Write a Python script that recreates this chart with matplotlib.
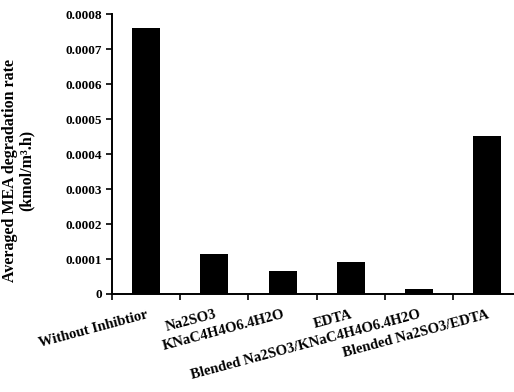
import matplotlib
matplotlib.use('Agg')
import matplotlib.pyplot as plt
import numpy as np

categories = ['Without Inhibtior', 'Na2SO3', 'KNaC4H4O6.4H2O', 'EDTA',
              'Blended Na2SO3/KNaC4H4O6.4H2O', 'Blended Na2SO3/EDTA']
rates = [0.00076, 0.000114, 0.000066, 0.000091, 0.000014, 0.000451]
yticks = [0, 0.0001, 0.0002, 0.0003, 0.0004, 0.0005, 0.0006, 0.0007, 0.0008]
ytick_labels = ['0', '0.0001', '0.0002', '0.0003', '0.0004', '0.0005', '0.0006', '0.0007', '0.0008']

plt.rcParams['font.family'] = ['Liberation Serif', 'DejaVu Serif']
plt.rcParams['font.weight'] = 'bold'

fig = plt.figure(figsize=(5.14, 3.92), dpi=100)
ax = fig.add_axes([0.218, 0.25, 0.796, 0.714])

x = np.arange(len(categories))
ax.bar(x, rates, width=0.41, color='black')

ax.set_xlim(-0.5, len(categories) - 0.5)
ax.set_ylim(0, 0.0008)
ax.set_yticks(yticks)
ax.set_yticklabels(ytick_labels, fontsize=9.5, fontweight='bold')

# boundaries get tick marks, centres get the labels
ax.set_xticks(np.arange(len(categories) + 1) - 0.5)
ax.set_xticklabels([])
ax.set_xticks(x, minor=True)
ax.set_xticklabels(categories, minor=True, rotation=15, ha='right',
                   rotation_mode='anchor', fontsize=10.5, fontweight='bold')
ax.tick_params(axis='x', which='minor', length=0, pad=10)
ax.tick_params(axis='x', which='major', length=4, width=1.2, direction='out')
ax.tick_params(axis='y', length=4, width=1.2, direction='out', pad=3)

for s in ['top', 'right']:
    ax.spines[s].set_visible(False)
for s in ['left', 'bottom']:
    ax.spines[s].set_linewidth(1.4)

ax.set_ylabel('Averaged MEA degradation rate\n(kmol/m³.h)', fontsize=11.5, fontweight='bold',
              linespacing=1.0)
ax.yaxis.set_label_coords(-0.19, 0.443)

fig.savefig('out.png', dpi=100)
